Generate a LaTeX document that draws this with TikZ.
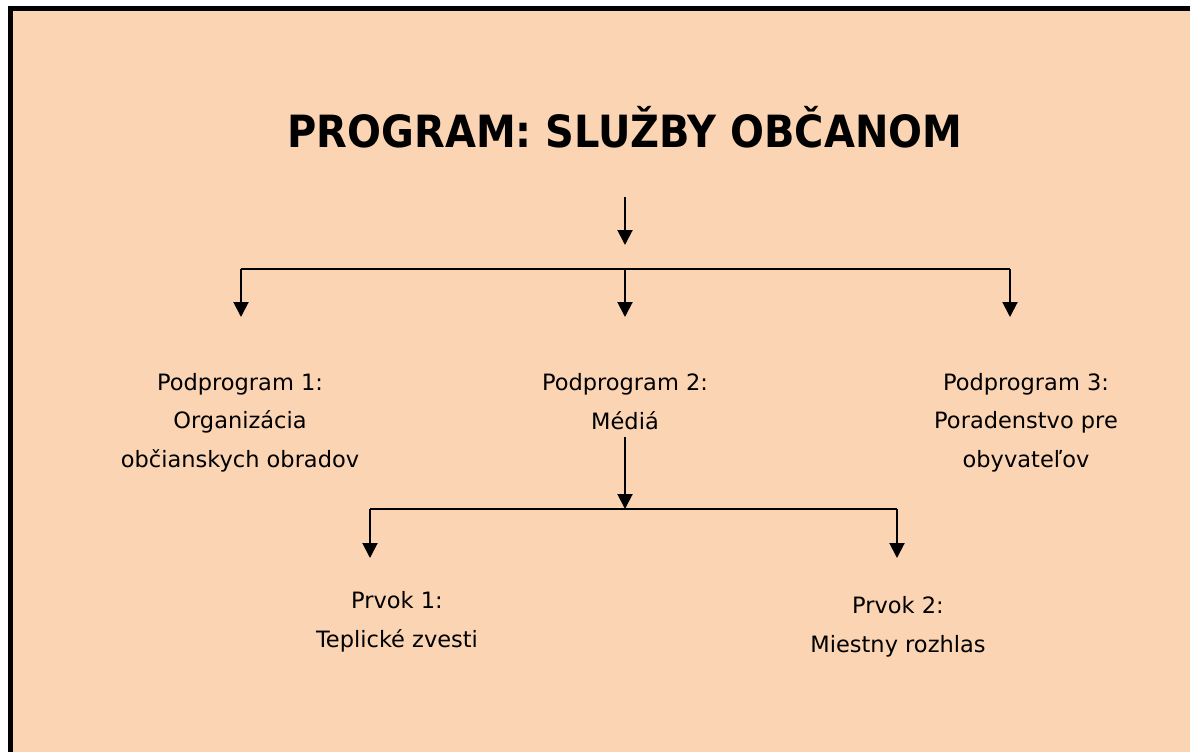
\documentclass[tikz,border=0pt]{standalone}
\usepackage{fontspec}
\setmainfont{DejaVu Sans}
\newfontfamily\titlefont{DejaVuSansCondensed-Bold}[Extension=.ttf]
\usetikzlibrary{arrows.meta}
\definecolor{peach}{HTML}{FBD4B4}
\begin{document}
\begin{tikzpicture}[x=1pt,y=-1pt,
  conn/.style={line width=2pt},
  arr/.style={conn,-{Triangle[width=15pt,length=15pt]}},
  lbl/.style={font=\fontsize{22.5}{38.5}\selectfont,align=center,inner sep=0pt,anchor=base},
  ttl/.style={font=\fontsize{44.4}{50}\titlefont,inner sep=0pt,anchor=base}]
\useasboundingbox (0,0) rectangle (1190,752);
% page frame
\fill[white] (0,0) rectangle (1190,752);
\fill[black] (8,6) rectangle (1190,752);
\fill[peach] (13,11) rectangle (1190,752);

% title
\node[ttl] (title) at (625,147.5) {PROGRAM: SLUŽBY OBČANOM};

% subprograms (anchored at the baseline of the last line)
\node[lbl] (p1) at (240,467) {Podprogram 1:\\Organizácia\\občianskych obradov};
\node[lbl] (p2) at (625,429) {Podprogram 2:\\Médiá};
\node[lbl] (p3) at (1026,467) {Podprogram 3:\\Poradenstvo pre\\obyvateľov};

% elements of subprogram 2
\node[lbl] (e1) at (397,647) {Prvok 1:\\Teplické zvesti};
\node[lbl] (e2) at (898,652) {Prvok 2:\\Miestny rozhlas};

% connector points
\coordinate (t1) at (625,197);
\coordinate (t2) at (625,245);
\coordinate (b1) at (241,269);
\coordinate (b2) at (625,269);
\coordinate (b3) at (1010,269);
\coordinate (d1) at (241,317);
\coordinate (d2) at (625,317);
\coordinate (d3) at (1010,317);
\coordinate (m1) at (625,437);
\coordinate (m2) at (625,509);
\coordinate (c1) at (370,509);
\coordinate (c2) at (897,509);
\coordinate (f1) at (370,558);
\coordinate (f2) at (897,558);

% title arrow and first level
\draw[arr] (t1) -- (t2);
\draw[conn] (b1) -- (b3);
\draw[arr] (b1) -- (d1);
\draw[arr] (b2) -- (d2);
\draw[arr] (b3) -- (d3);

% second level
\draw[arr] (m1) -- (m2);
\draw[conn] (c1) -- (c2);
\draw[arr] (c1) -- (f1);
\draw[arr] (c2) -- (f2);
\end{tikzpicture}
\end{document}
